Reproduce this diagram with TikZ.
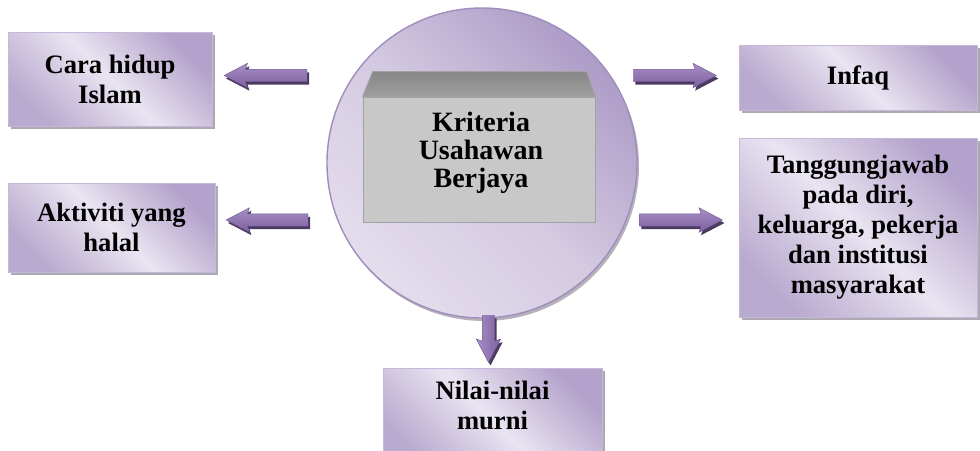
\documentclass[tikz,border=0pt]{standalone}
\usepackage{fontspec}
\setmainfont{Liberation Serif}
\usetikzlibrary{shapes.arrows,shadows,shadings}

\definecolor{boxlight}{HTML}{E9E4F1}
\definecolor{boxpurple}{HTML}{B3A2CB}
\definecolor{boxpurpleb}{HTML}{B9AACF}
\definecolor{boxedge}{HTML}{C6B8DA}
\definecolor{shadowgray}{HTML}{A3A0A8}
\definecolor{circlight}{HTML}{E4DDEC}
\definecolor{circmid}{HTML}{D3C9E1}
\definecolor{circpurple}{HTML}{AD9CC7}
\definecolor{circedge}{HTML}{A08DBD}
\definecolor{arrowlight}{HTML}{A78FC6}
\definecolor{arrowdark}{HTML}{7D5F9F}
\definecolor{arrowedge}{HTML}{6E5590}
\definecolor{arrowshadow}{HTML}{4A3C60}
\definecolor{frontgray}{HTML}{C8C8C8}
\definecolor{frontedge}{HTML}{A2A2A2}
\definecolor{topgray}{HTML}{A0A0A0}
\definecolor{topgraydark}{HTML}{878787}

\begin{document}
\begin{tikzpicture}[x=1pt,y=-1pt,
  box/.style={rectangle, draw=boxedge, line width=1pt,
    top color=boxpurpleb, bottom color=boxpurple, middle color=boxlight,
    shading angle=135,
    drop shadow={shadow xshift=3pt, shadow yshift=-3pt, fill=shadowgray, opacity=0.9},
    font=\bfseries\fontsize{26.6}{30}\selectfont, align=center, inner sep=0pt},
  boxtext/.style={font=\bfseries\fontsize{26.6}{30}\selectfont, align=center, inner sep=0pt},
  blockarrow/.style={single arrow, minimum width=24pt, single arrow head extend=6pt,
    single arrow tip angle=55, single arrow head indent=2pt, inner sep=6pt,
    top color=arrowlight, bottom color=arrowdark, draw=arrowedge, line width=0.4pt,
    drop shadow={shadow xshift=2pt, shadow yshift=-3pt, fill=arrowshadow, opacity=1}},
]
\useasboundingbox (0,0) rectangle (980,450);
\fill[white] (0,0) rectangle (980,450);

% central circle
\node[circle, minimum size=310pt, inner sep=0pt, draw=circedge, line width=1.4pt,
  top color=circpurple, bottom color=circlight, middle color=circmid, shading angle=-45,
  drop shadow={shadow xshift=2pt, shadow yshift=-3pt, fill=shadowgray, opacity=0.8}]
  (circ) at (482,163) {};

% grey block
\node[rectangle, minimum width=232pt, minimum height=125pt, inner sep=0pt,
  fill=frontgray, draw=frontedge, line width=0.8pt] (front) at (479,159.5) {};
\draw[top color=topgraydark, bottom color=topgray, draw=frontedge, line width=0.8pt]
  (front.north west) -- ++(10,-25) -- ++(214,0) -- (front.north east) -- cycle;
\node[font=\bfseries\fontsize{28}{28}\selectfont, align=center, inner sep=0pt]
  (crit) at (481,153) {Kriteria\\Usahawan\\Berjaya};

% boxes
\node[box, minimum width=204pt, minimum height=94pt] (b1) at (110,79) {Cara hidup\\Islam};
\node[box, minimum width=207pt, minimum height=89pt] (b2) at (111.5,227.5) {Aktiviti yang\\halal};
\node[box, minimum width=238pt, minimum height=65pt] (b3) at (858,77.5) {Infaq};
\node[box, minimum width=238pt, minimum height=179pt] (b4) at (858,227.5)
  {Tanggungjawab\\pada diri,\\keluarga, pekerja\\dan institusi\\masyarakat};
\node[box, minimum width=219pt, minimum height=102pt] (b5) at (492.5,419) {};
\node[boxtext] (b5t) at (492.5,405) {Nilai-nilai\\murni};

% block arrows
\node[blockarrow, minimum height=83pt, shape border rotate=180] (a1) at (271.5,75.5) {};
\node[blockarrow, minimum height=82pt, shape border rotate=180] (a2) at (273,220) {};
\node[blockarrow, minimum height=83pt] (a3) at (669,75.5) {};
\node[blockarrow, minimum height=83pt] (a4) at (675,220) {};
\node[blockarrow, minimum height=47pt, shape border rotate=270,
  left color=arrowlight, right color=arrowdark] (a5) at (488.5,333) {};
\end{tikzpicture}
\end{document}
